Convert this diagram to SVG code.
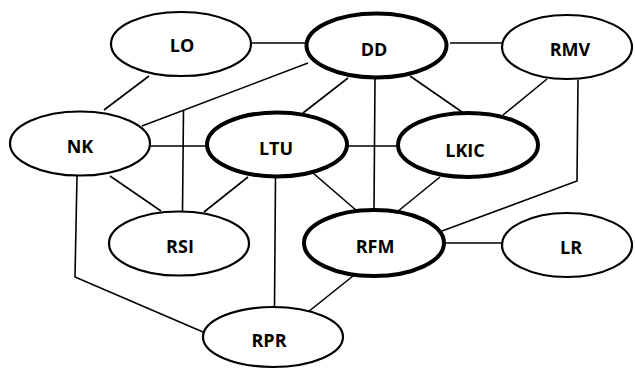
<svg xmlns="http://www.w3.org/2000/svg" width="635" height="369" viewBox="0 0 635 369">
<style>
.n{fill:#fff;stroke:#000;stroke-width:2.2}
.t{stroke-width:4}
.e{fill:none;stroke:#000;stroke-width:1.6}
text{font-family:"Open Sans","Liberation Sans",sans-serif;font-weight:bold;font-size:18px;text-anchor:middle;fill:#000}
</style>
<rect width="635" height="369" fill="#fff"/>
<g id="edges" class="e">
<line x1="252" y1="43" x2="306" y2="43"/>
<line x1="450" y1="43" x2="502" y2="43"/>
<line x1="149" y1="76" x2="104" y2="110"/>
<line x1="308" y1="63" x2="142" y2="126"/>
<line x1="183.5" y1="110" x2="182.5" y2="211"/>
<line x1="150" y1="146" x2="207" y2="146"/>
<line x1="347" y1="146" x2="398" y2="146"/>
<line x1="348" y1="78" x2="303" y2="113"/>
<line x1="375" y1="78" x2="374" y2="210"/>
<line x1="410" y1="76" x2="462" y2="112"/>
<line x1="547" y1="79" x2="503" y2="115"/>
<polyline points="578,80 577,181 442,231"/>
<line x1="110" y1="176" x2="161" y2="211"/>
<polyline points="77,176 75,277 203,332"/>
<line x1="248" y1="177" x2="204" y2="212"/>
<line x1="275.5" y1="177" x2="274.5" y2="308"/>
<line x1="313" y1="173" x2="357" y2="211"/>
<line x1="440" y1="177" x2="397" y2="212"/>
<line x1="444" y1="243" x2="502" y2="243"/>
<line x1="353" y1="276" x2="308" y2="312"/>
</g>
<g id="LO"><ellipse class="n" cx="181" cy="44" rx="70" ry="32"/><text x="182" y="52">LO</text></g>
<g id="DD"><ellipse class="n t" cx="376.5" cy="45.5" rx="70" ry="32"/><text x="374" y="56">DD</text></g>
<g id="RMV"><ellipse class="n" cx="567" cy="47" rx="65" ry="32"/><text x="570" y="56">RMV</text></g>
<g id="NK"><ellipse class="n" cx="80" cy="143.5" rx="70" ry="32"/><text x="80" y="153">NK</text></g>
<g id="LTU"><ellipse class="n t" cx="277" cy="144.5" rx="70" ry="32"/><text x="276" y="155">LTU</text></g>
<g id="LKIC"><ellipse class="n t" cx="468" cy="145" rx="70" ry="32"/><text x="465" y="157">LKIC</text></g>
<g id="RSI"><ellipse class="n" cx="179" cy="243.5" rx="70" ry="32"/><text x="180" y="253">RSI</text></g>
<g id="RFM"><ellipse class="n t" cx="374" cy="243" rx="70" ry="33"/><text x="375" y="253">RFM</text></g>
<g id="LR"><ellipse class="n" cx="567" cy="245" rx="65" ry="32"/><text x="571" y="254">LR</text></g>
<g id="RPR"><ellipse class="n" cx="273" cy="337" rx="70" ry="30"/><text x="269" y="347">RPR</text></g>
</svg>
